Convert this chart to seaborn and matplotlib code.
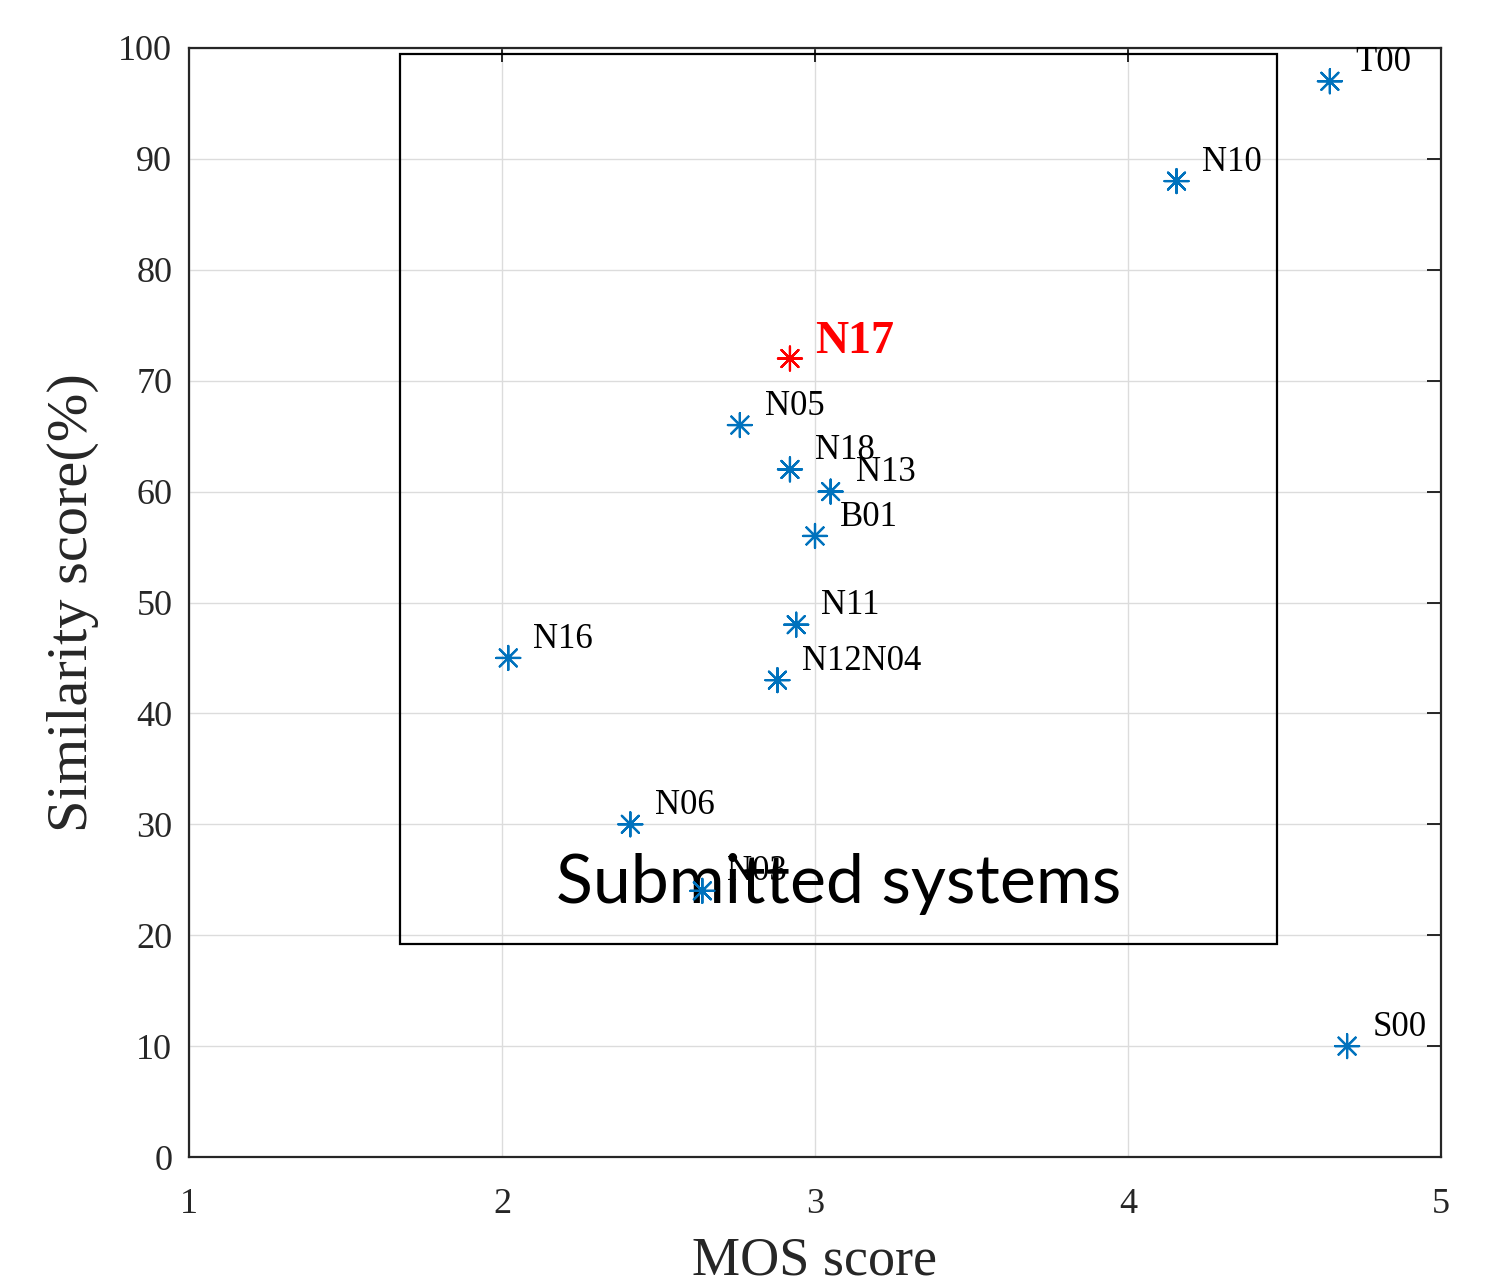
import matplotlib
matplotlib.use("Agg")
import matplotlib.pyplot as plt
import seaborn as sns
import pandas as pd
from matplotlib.patches import Rectangle

# ---- data ----
systems = ['T00', 'N10', 'N17', 'N05', 'N18', 'N13', 'B01', 'N11', 'N16', 'N12N04', 'N06', 'N03', 'S00']
mos = [4.645, 4.155, 2.92, 2.76, 2.92, 3.05, 3.00, 2.94, 2.02, 2.88, 2.41, 2.64, 4.70]
similarity = [97, 88, 72, 66, 62, 60, 56, 48, 45, 43, 30, 24, 10]
highlight = 'N17'
xticks = [1, 2, 3, 4, 5]
yticks = list(range(0, 101, 10))
box_x0, box_x1 = 1.674, 4.476
box_y0, box_y1 = 19.2, 99.5

df = pd.DataFrame({'system': systems, 'mos': mos, 'sim': similarity})
df['group'] = ['hl' if s == highlight else 'other' for s in systems]

sns.set_theme(style="white")
plt.rcParams['font.family'] = ['Liberation Serif', 'DejaVu Serif']

fig = plt.figure(figsize=(15.03, 12.85), dpi=100)
ax = fig.add_axes([189/1503, 1 - 1157/1285, (1441-189)/1503, (1157-48)/1285])

blue = '#0072BD'
red = '#FF0000'
sns.scatterplot(data=df, x='mos', y='sim', hue='group', palette={'other': blue, 'hl': red},
                marker=(8, 2, 0), s=300, linewidth=1.6, legend=False, ax=ax, zorder=5)

for s, x, y in zip(systems, mos, similarity):
    if s == highlight:
        ax.text(x + 0.08, y + 1.5, s, color=red, fontsize=33, fontweight='bold',
                va='center', ha='left', zorder=6)
    else:
        ax.text(x + 0.08, y + 1.7, s, color='black', fontsize=25, va='center', ha='left', zorder=6)

ax.add_patch(Rectangle((box_x0, box_y0), box_x1 - box_x0, box_y1 - box_y0,
                       fill=False, edgecolor='black', linewidth=1.6, zorder=4))
ax.text((box_x0 + box_x1) / 2, 24.6, 'Submitted systems', fontsize=49,
        family=['Lato', 'DejaVu Sans'], ha='center', va='center',
        color='black', zorder=4)

ax.set_xlim(1, 5)
ax.set_ylim(0, 100)
ax.set_xticks(xticks)
ax.set_yticks(yticks)
ax.grid(True, color='#dcdcdc', linewidth=1.0)
ax.set_axisbelow(True)
for sp in ax.spines.values():
    sp.set_color('#262626')
    sp.set_linewidth(1.6)
    sp.set_visible(True)
ax.tick_params(direction='in', length=10, width=1.4, colors='#262626', labelsize=26,
               top=True, right=True, pad=12)
ax.tick_params(axis='x', pad=22)
ax.set_xlabel('MOS score', fontsize=39, color='#262626', labelpad=11)
ax.set_ylabel('Similarity score(%)', fontsize=42, color='#262626', labelpad=14)

fig.savefig('out.png', dpi=100)
